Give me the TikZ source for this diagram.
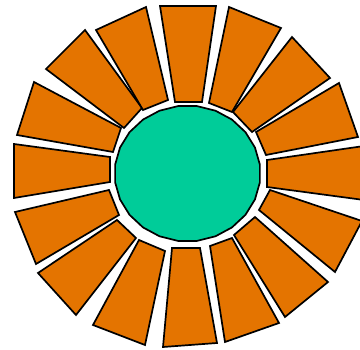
\documentclass[tikz,border=0pt]{standalone}
\begin{document}
\begin{tikzpicture}[x=1pt,y=-1pt,
  ray/.style={draw=black,line width=1.7pt,line join=miter,fill=rayorange},
  hub/.style={draw=black,line width=1.7pt,fill=hubgreen}]
\definecolor{rayorange}{RGB}{228,116,0}
\definecolor{hubgreen}{RGB}{0,204,153}
\clip (0,0) rectangle (360,350);
\fill[white] (0,0) rectangle (360,350);
% rays
\draw[ray] (160,6) -- (216,6) -- (202,102) -- (175,102) -- cycle;
\draw[ray] (229,7) -- (281,28) -- (232,112) -- (209,103) -- cycle;
\draw[ray] (292,37) -- (330,78) -- (252,132) -- (233,112) -- cycle;
\draw[ray] (339,83) -- (358,137) -- (266,155) -- (256,132) -- cycle;
\draw[ray] (267,160) -- (364,146) -- (364,200) -- (267,187) -- cycle;
\draw[ray] (270,190) -- (362,221) -- (335,272) -- (259,210) -- cycle;
\draw[ray] (255,217) -- (328,282) -- (285,317) -- (234,235) -- cycle;
\draw[ray] (232,238) -- (279,323) -- (225,342) -- (210,246) -- cycle;
\draw[ray] (200,248) -- (217,343) -- (163,347) -- (172,248) -- cycle;
\draw[ray] (165,251) -- (145,345) -- (93,325) -- (139,240) -- cycle;
\draw[ray] (136,238) -- (76,315) -- (38,273) -- (117,220) -- cycle;
\draw[ray] (109,190) -- (119,215) -- (36,264) -- (15,212) -- cycle;
\draw[ray] (14,144) -- (110,157) -- (110,182) -- (14,198) -- cycle;
\draw[ray] (34,82) -- (121,128) -- (113,152) -- (17,135) -- cycle;
\draw[ray] (85,30) -- (142,108) -- (124,128) -- (46,69) -- cycle;
\draw[ray] (96,30) -- (146,7) -- (168,100) -- (143,110) -- cycle;
% hub
\draw[hub] plot[samples=25,domain=0:360,variable=\t] ({187.5+73*cos(\t+7.5)},{173.5+68*sin(\t+7.5)}) -- cycle;
\end{tikzpicture}
\end{document}
